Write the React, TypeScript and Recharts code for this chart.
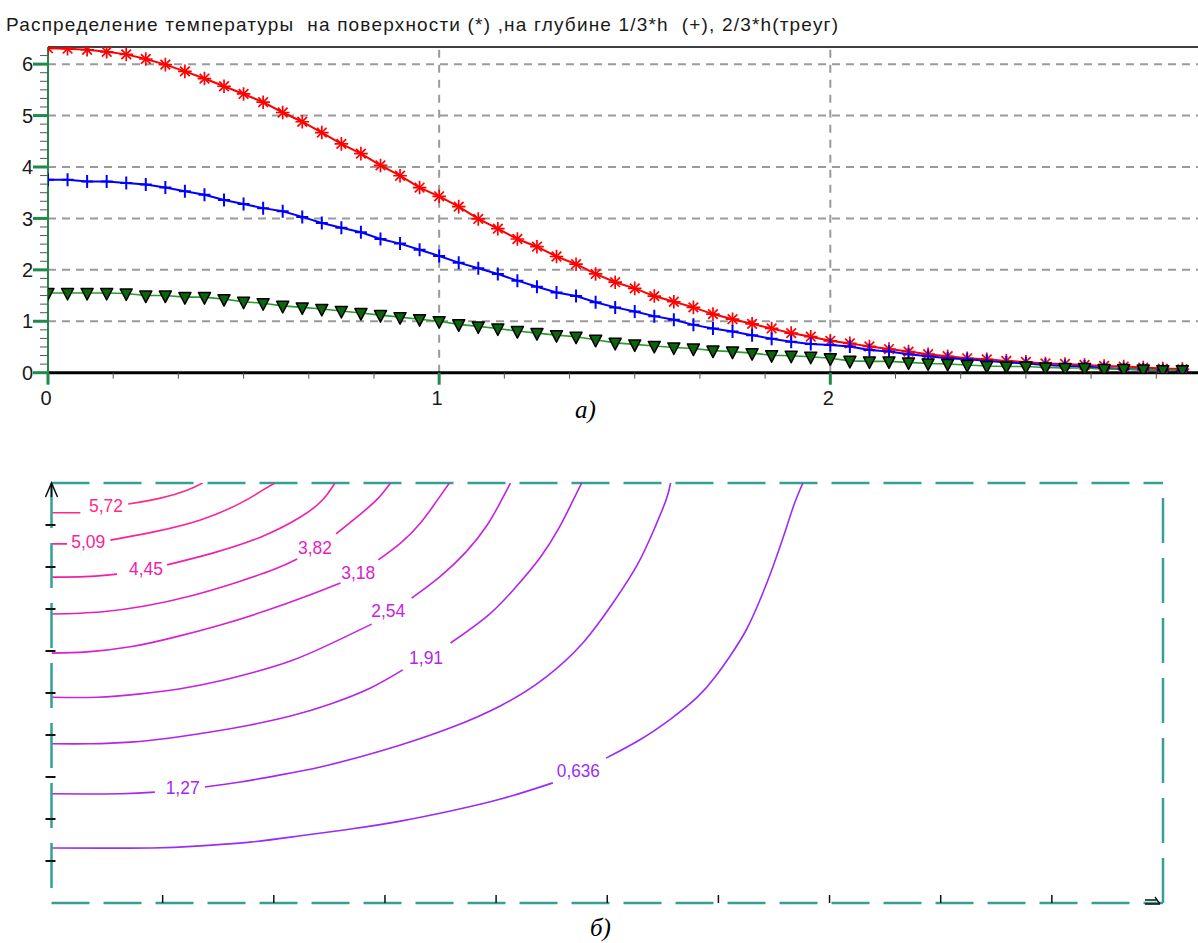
import React from "react";
import { ComposedChart, Line, Scatter, XAxis, YAxis, ReferenceLine } from "recharts";

// ---- temperature profiles along x (top plot) ----
const NODES_X = [
  0, 0.05, 0.1, 0.15, 0.2, 0.25, 0.3, 0.35, 0.4, 0.45, 0.5, 0.55, 0.6, 0.65, 0.7, 0.75, 0.8, 0.85, 0.9, 0.95,
  1, 1.05, 1.1, 1.15, 1.2, 1.25, 1.3, 1.35, 1.4, 1.45, 1.5, 1.55, 1.6, 1.65, 1.7, 1.75, 1.8, 1.85, 1.9, 1.95,
  2, 2.05, 2.1, 2.15, 2.2, 2.25, 2.3, 2.35, 2.4, 2.45, 2.5, 2.55, 2.6, 2.65, 2.7, 2.75, 2.8, 2.85, 2.9,
];

// surface (*)
const T_SURFACE = [
  6.31, 6.3, 6.28, 6.24, 6.19, 6.1, 5.99, 5.86, 5.72, 5.57, 5.42, 5.26, 5.06, 4.88, 4.67, 4.45, 4.26, 4.03, 3.83, 3.6,
  3.43, 3.23, 2.99, 2.8, 2.6, 2.45, 2.26, 2.11, 1.92, 1.76, 1.64, 1.49, 1.38, 1.27, 1.14, 1.04, 0.95, 0.86, 0.77, 0.7,
  0.62, 0.57, 0.51, 0.46, 0.41, 0.36, 0.32, 0.28, 0.26, 0.23, 0.21, 0.18, 0.17, 0.15, 0.13, 0.12, 0.1, 0.08, 0.07,
];

// depth h/3 (+)
const T_THIRD = [
  3.75, 3.75, 3.72, 3.72, 3.69, 3.66, 3.6, 3.53, 3.46, 3.36, 3.28, 3.2, 3.14, 3.03, 2.91, 2.82, 2.73, 2.6, 2.51, 2.39,
  2.27, 2.14, 2.03, 1.92, 1.79, 1.67, 1.56, 1.49, 1.37, 1.27, 1.19, 1.1, 1.03, 0.93, 0.86, 0.8, 0.73, 0.66, 0.6, 0.56,
  0.54, 0.51, 0.44, 0.41, 0.36, 0.32, 0.28, 0.26, 0.23, 0.2, 0.18, 0.15, 0.13, 0.12, 0.09, 0.07, 0.06, 0.05, 0.04,
];

// depth 2h/3 (triangles)
const T_TWO_THIRDS = [
  1.55, 1.55, 1.55, 1.55, 1.54, 1.5, 1.5, 1.47, 1.47, 1.43, 1.38, 1.35, 1.3, 1.27, 1.24, 1.2, 1.16, 1.12, 1.08, 1.04,
  1.0, 0.94, 0.9, 0.86, 0.81, 0.77, 0.73, 0.7, 0.64, 0.58, 0.55, 0.52, 0.49, 0.47, 0.43, 0.41, 0.38, 0.34, 0.33, 0.31,
  0.28, 0.23, 0.22, 0.22, 0.2, 0.18, 0.17, 0.15, 0.13, 0.12, 0.12, 0.1, 0.09, 0.09, 0.07, 0.07, 0.06, 0.05, 0.05,
];

const PROFILE_X_MAX = 2.94;
const PROFILE_Y_MAX = 38 / 6;
const Y_SIXTHS = [0, 1, 2, 3, 4, 5, 6, 7, 8, 9, 10, 11, 12, 13, 14, 15, 16, 17, 18, 19, 20, 21, 22, 23, 24, 25, 26, 27, 28, 29, 30, 31, 32, 33, 34, 35, 36, 37];
const X_SIXTHS = [0, 1, 2, 3, 4, 5, 6, 7, 8, 9, 10, 11, 12, 13, 14, 15, 16, 17];
const GRID_Y = [1, 2, 3, 4, 5, 6];
const GRID_X = [1, 2];

const TITLE = "Распределение температуры  на поверхности (*) ,на глубине 1/3*h  (+), 2/3*h(треуг)";

// ---- isotherms in the cross-section (bottom plot), [x, depth]; null = gap for the label ----
const ISO_LEVELS = ["5,72", "5,09", "4,45", "3,82", "3,18", "2,54", "1,91", "1,27", "0,636"];
const ISO_COLORS = ["#ff2a86", "#fb2495", "#f020aa", "#e41fc0", "#d820d2", "#c424e0", "#b424ea", "#a626f2", "#9a2cfa"];

const ISO_572 = [[0, 0.71], [0.26, 0.71], null, [0.69, 0.5], [0.98, 0.36], [1.22, 0.17], [1.36, 0]];
const ISO_509 = [[0, 1.45], [0.14, 1.45], null, [0.53, 1.36], [0.91, 1.17], [1.34, 0.88], [1.7, 0.48], [1.9, 0.17], [2.01, 0]];
const ISO_445 = [[0, 2.24], [0.3, 2.23], [0.59, 2.17], null, [1.04, 1.95], [1.45, 1.67], [1.88, 1.29], [2.24, 0.81], [2.44, 0.4], [2.55, 0]];
const ISO_382 = [[0, 3.12], [0.44, 3.07], [0.84, 2.93], [1.25, 2.69], [1.65, 2.38], [2.01, 2.05], [2.21, 1.81], null, [2.56, 1.21], [2.78, 0.74], [2.94, 0.36], [3.05, 0]];
const ISO_318 = [[0, 4.05], [0.32, 4.02], [0.71, 3.9], [1.11, 3.67], [1.52, 3.38], [1.92, 3.05], [2.28, 2.71], [2.6, 2.38], null, [2.94, 1.83], [3.14, 1.43], [3.32, 0.95], [3.46, 0.45], [3.58, 0]];
const ISO_254 = [[0, 5.1], [0.41, 5.1], [0.8, 5.02], [1.16, 4.9], [1.52, 4.71], [1.83, 4.5], [2.15, 4.24], [2.51, 3.83], [2.88, 3.36], null, [3.24, 2.74], [3.49, 2.24], [3.73, 1.64], [3.92, 1.0], [4.04, 0.45], [4.13, 0]];
const ISO_191 = [[0, 6.21], [0.35, 6.21], [0.71, 6.17], [1.07, 6.07], [1.43, 5.93], [1.79, 5.76], [2.15, 5.55], [2.51, 5.26], [2.87, 4.88], [3.16, 4.45], null, [3.59, 3.81], [3.92, 3.17], [4.17, 2.5], [4.4, 1.76], [4.57, 1.05], [4.68, 0.48], [4.77, 0]];
const ISO_127 = [[0, 7.4], [0.62, 7.4], [0.93, 7.36], null, [1.38, 7.24], [1.7, 7.12], [2.06, 6.95], [2.42, 6.76], [2.78, 6.52], [3.14, 6.24], [3.59, 5.83], [4.05, 5.29], [4.44, 4.64], [4.78, 3.81], [5.04, 2.9], [5.27, 1.95], [5.43, 1.05], [5.53, 0.4], [5.57, 0]];
const ISO_064 = [[0, 8.69], [0.91, 8.69], [1.34, 8.64], [1.79, 8.55], [2.24, 8.4], [2.69, 8.24], [3.14, 8.05], [3.59, 7.81], [4.05, 7.52], [4.51, 7.14], null, [4.99, 6.55], [5.29, 6.12], [5.57, 5.62], [5.81, 5.1], [5.97, 4.62], [6.11, 4.1], [6.25, 3.5], [6.37, 2.81], [6.48, 2.07], [6.59, 1.24], [6.68, 0.52], [6.76, 0]];

const ISO_LINES = [ISO_572, ISO_509, ISO_445, ISO_382, ISO_318, ISO_254, ISO_191, ISO_127, ISO_064];
const ISO_LABEL_X = [0.49, 0.33, 0.85, 2.37, 2.76, 3.03, 3.37, 1.18, 4.74];
const ISO_LABEL_D = [0.52, 1.38, 2.02, 1.52, 2.12, 3.02, 4.14, 7.24, 6.83];

const SECTION_TICKS_X = [1, 2, 3, 4, 5, 6, 7, 8, 9, 10];
const SECTION_TICKS_D = [0, 1, 2, 3, 4, 5, 6, 7, 8, 9];

const AXIS_GREEN = "#1f8a4c";
const TEAL = "#35a09a";
const FONT = "'Liberation Sans', Arial, sans-serif";

const profileRows = NODES_X.map((x, i) => ({
  x,
  surface: T_SURFACE[i],
  third: T_THIRD[i],
  twoThirds: T_TWO_THIRDS[i],
}));

const toRows = (pts: (number[] | null)[]) =>
  pts.map((p) => (p ? { x: p[0], d: p[1] } : { x: null, d: null }));

const labelRows = ISO_LEVELS.map((text, i) => ({
  x: ISO_LABEL_X[i],
  d: ISO_LABEL_D[i],
  text,
  color: ISO_COLORS[i],
}));

const isWhole = (v: number) => Math.abs(v - Math.round(v)) < 1e-9;

// ---- markers ----
function starDot(p: any) {
  const { cx, cy, index } = p;
  if (cx == null || cy == null) return <g key={`s${index}`} />;
  const r = 6.8;
  const q = 4.8;
  return (
    <g key={`s${index}`} stroke="#ff0000" strokeWidth={1.7}>
      <line x1={cx - r} y1={cy} x2={cx + r} y2={cy} />
      <line x1={cx} y1={cy - r} x2={cx} y2={cy + r} />
      <line x1={cx - q} y1={cy - q} x2={cx + q} y2={cy + q} />
      <line x1={cx - q} y1={cy + q} x2={cx + q} y2={cy - q} />
    </g>
  );
}

function plusDot(p: any) {
  const { cx, cy, index } = p;
  if (cx == null || cy == null) return <g key={`p${index}`} />;
  return (
    <g key={`p${index}`} stroke="#0000ff" strokeWidth={2}>
      <line x1={cx - 6} y1={cy} x2={cx + 6} y2={cy} />
      <line x1={cx} y1={cy - 6.5} x2={cx} y2={cy + 6.5} />
    </g>
  );
}

function triangleDot(p: any) {
  const { cx, cy, index } = p;
  if (cx == null || cy == null) return <g key={`t${index}`} />;
  return (
    <polygon
      key={`t${index}`}
      points={`${cx - 6},${cy - 4.5} ${cx + 6},${cy - 4.5} ${cx},${cy + 7}`}
      fill="#0b650b"
      stroke="#000"
      strokeWidth={1.5}
      strokeLinejoin="round"
    />
  );
}

// ---- ticks of the profile plot ----
function ProfileYTick(p: any) {
  const { x, y, payload } = p;
  const v = payload.value as number;
  if (isWhole(v)) {
    return (
      <g>
        <line x1={x - 15} y1={y} x2={x} y2={y} stroke={AXIS_GREEN} strokeWidth={3} />
        <text x={x - 15} y={y} dy="0.36em" textAnchor="end" fontFamily={FONT} fontSize={20} fill="#1a1a1a">
          {Math.round(v)}
        </text>
      </g>
    );
  }
  return <line x1={x - 8} y1={y} x2={x} y2={y} stroke="#555" strokeWidth={1} />;
}

function ProfileXTick(p: any) {
  const { x, y, payload } = p;
  const v = payload.value as number;
  if (isWhole(v)) {
    return (
      <g>
        <line x1={x} y1={y} x2={x} y2={y + 12} stroke={AXIS_GREEN} strokeWidth={3} />
        <text x={x - 2} y={y + 32} textAnchor="middle" fontFamily={FONT} fontSize={20} fill="#1a1a1a">
          {Math.round(v)}
        </text>
      </g>
    );
  }
  return <line x1={x} y1={y} x2={x} y2={y + 6} stroke="#555" strokeWidth={1} />;
}

// ---- ticks of the cross-section ----
function SectionDTick(p: any) {
  const { x, y, payload } = p;
  if (payload.value === 0) {
    return (
      <path d={`M${x - 6},${y + 14} L${x},${y} L${x + 6},${y + 14} M${x},${y} L${x},${y + 14}`} stroke="#111" strokeWidth={1.5} fill="none" />
    );
  }
  return <line x1={x - 6} y1={y} x2={x + 4} y2={y} stroke="#111" strokeWidth={2} />;
}

function SectionXTick(p: any) {
  const { x, y, payload } = p;
  if (payload.value === 10) {
    return (
      <path d={`M${x - 18},${y - 3} L${x - 6},${y - 3} M${x - 18},${y + 1} L${x - 3},${y + 1} M${x - 8},${y - 6} L${x - 3},${y + 1}`} stroke="#111" strokeWidth={1.3} fill="none" />
    );
  }
  return <line x1={x} y1={y - 8} x2={x} y2={y} stroke="#111" strokeWidth={1.5} />;
}

function isoLabel(p: any) {
  const { cx, cy, payload } = p;
  const text: string = payload?.text ?? p.text;
  const color: string = payload?.color ?? p.color;
  return (
    <text
      x={cx}
      y={cy}
      dy="0.36em"
      textAnchor="middle"
      fontFamily={FONT}
      fontSize={19}
      fill={color}
      textLength={text.length > 4 ? 43 : 34}
      lengthAdjust="spacingAndGlyphs"
    >
      {text}
    </text>
  );
}

export default function App() {
  return (
    <div style={{ position: "absolute", left: 0, top: 0, width: 1198, height: 943, background: "#fff", overflow: "hidden" }}>
      <div style={{ position: "absolute", left: 0, top: 0 }}>
        <ComposedChart width={1198} height={420} data={profileRows} margin={{ top: 47, right: 0, bottom: 7.3, left: 0 }}>
          <XAxis
            dataKey="x"
            type="number"
            domain={[0, PROFILE_X_MAX]}
            allowDataOverflow
            ticks={X_SIXTHS.map((k) => k / 6)}
            interval={0}
            tick={ProfileXTick}
            tickLine={false}
            tickSize={0}
            tickMargin={0}
            height={40}
            axisLine={{ stroke: "#000", strokeWidth: 3 }}
          />
          <YAxis
            type="number"
            domain={[0, PROFILE_Y_MAX]}
            allowDataOverflow
            ticks={Y_SIXTHS.map((k) => k / 6)}
            interval={0}
            tick={ProfileYTick}
            tickLine={false}
            tickSize={0}
            tickMargin={0}
            width={48}
            axisLine={{ stroke: AXIS_GREEN, strokeWidth: 2 }}
          />
          {GRID_Y.map((v) => (
            <ReferenceLine key={`gy${v}`} y={v} stroke="#9a9a9a" strokeWidth={2} strokeDasharray="8 6" />
          ))}
          {GRID_X.map((v) => (
            <ReferenceLine key={`gx${v}`} x={v} stroke="#9a9a9a" strokeWidth={2} strokeDasharray="8 7" />
          ))}
          <ReferenceLine y={PROFILE_Y_MAX} stroke="#000" strokeWidth={1.5} />
          <Line dataKey="surface" stroke="#ff0000" strokeWidth={2} type="linear" dot={starDot} activeDot={false} isAnimationActive={false} />
          <Line dataKey="third" stroke="#0000ff" strokeWidth={2} type="linear" dot={plusDot} activeDot={false} isAnimationActive={false} />
          <Line dataKey="twoThirds" stroke="#25a025" strokeWidth={1.6} type="linear" dot={triangleDot} activeDot={false} isAnimationActive={false} />
        </ComposedChart>
      </div>

      <div style={{ position: "absolute", left: 0, top: 455 }}>
        <ComposedChart width={1198} height={475} margin={{ top: 28, right: 35, bottom: 17, left: 0 }}>
          <XAxis
            dataKey="x"
            type="number"
            domain={[0, 10]}
            allowDataOverflow
            ticks={SECTION_TICKS_X}
            interval={0}
            tick={SectionXTick}
            tickLine={false}
            tickSize={0}
            tickMargin={0}
            height={10}
            axisLine={{ stroke: TEAL, strokeWidth: 2.5, strokeDasharray: "38 14" }}
          />
          <YAxis
            dataKey="d"
            type="number"
            domain={[0, 10]}
            reversed
            allowDataOverflow
            ticks={SECTION_TICKS_D}
            interval={0}
            tick={SectionDTick}
            tickLine={false}
            tickSize={0}
            tickMargin={0}
            width={51.5}
            axisLine={{ stroke: TEAL, strokeWidth: 2.5, strokeDasharray: "45 15" }}
          />
          <ReferenceLine y={0} stroke={TEAL} strokeWidth={2.5} strokeDasharray="38 14" />
          <ReferenceLine x={10} stroke={TEAL} strokeWidth={2.5} strokeDasharray="45 15" />
          {ISO_LINES.map((pts, i) => (
            <Line
              key={ISO_LEVELS[i]}
              data={toRows(pts)}
              dataKey="d"
              stroke={ISO_COLORS[i]}
              strokeWidth={1.6}
              type="natural"
              dot={false}
              activeDot={false}
              isAnimationActive={false}
            />
          ))}
          <Scatter data={labelRows} dataKey="d" shape={isoLabel} isAnimationActive={false} />
        </ComposedChart>
      </div>

      <svg width={1198} height={943} style={{ position: "absolute", left: 0, top: 0, pointerEvents: "none" }}>
        <text x={6} y={31} fontFamily={FONT} fontSize={19} fill="#1a1a1a" textLength={832} lengthAdjust="spacing" style={{ whiteSpace: "pre" }}>
          {TITLE}
        </text>
        <text x={575} y={418} fontFamily="'Liberation Serif', 'Times New Roman', serif" fontStyle="italic" fontSize={25} fill="#000">
          а)
        </text>
        <text x={590} y={936} fontFamily="'Liberation Serif', 'Times New Roman', serif" fontStyle="italic" fontSize={25} fill="#000">
          б)
        </text>
      </svg>
    </div>
  );
}
